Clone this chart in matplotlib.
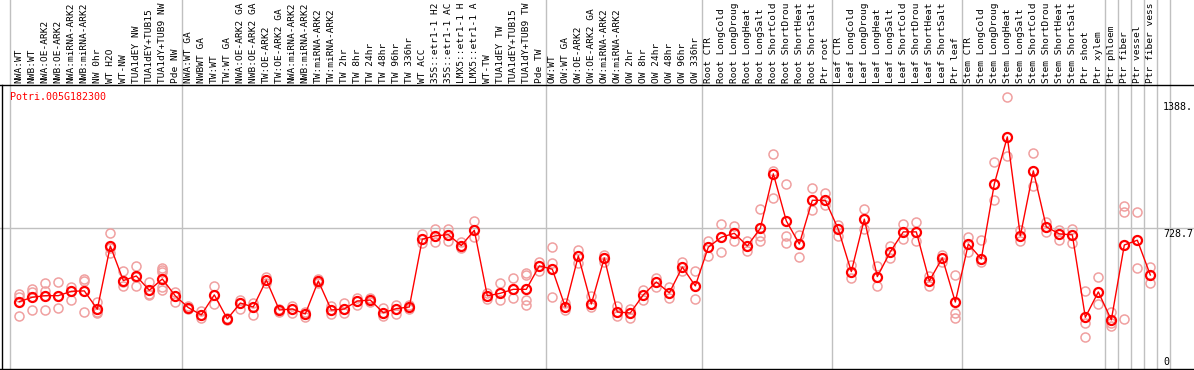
import matplotlib
matplotlib.use('Agg')
import matplotlib.pyplot as plt
from matplotlib.lines import Line2D


gene = 'Potri.005G182300'

# labels as printed in the header (it only holds 14 characters)
labels = [
    'NWA:WT', 'NWB:WT', 'NWA:OE-ARK2', 'NWB:OE-ARK2', 'NWA:miRNA-ARK2',
    'NWB:miRNA-ARK2', 'NW 0hr', 'WT H2O', 'WT-NW', 'TUA1dEY NW',
    'TUA1dEY+TUB15', 'TUA1dY+TUB9 NW', 'Pde NW',
    'NWA:WT GA', 'NWBWT GA', 'TW:WT', 'TW:WT GA', 'NWA:OE-ARK2 GA',
    'NWB:OE-ARK2 GA', 'TW:OE-ARK2', 'TW:OE-ARK2 GA', 'NWA:miRNA-ARK2',
    'NWB:miRNA-ARK2', 'TW:miRNA-ARK2', 'TW:miRNA-ARK2', 'TW 2hr', 'TW 8hr',
    'TW 24hr', 'TW 48hr', 'TW 96hr', 'TW 336hr', 'WT ACC',
    '35S::etr1-1 H2', '35S::etr1-1 AC', 'LMX5::etr1-1 H',
    'LMX5::etr1-1 A', 'WT-TW', 'TUA1dEY TW', 'TUA1dEY+TUB15',
    'TUA1dY+TUB9 TW', 'Pde TW',
    'OW:WT', 'OW:WT GA', 'OW:OE-ARK2', 'OW:OE-ARK2 GA', 'OW:miRNA-ARK2',
    'OW:miRNA-ARK2', 'OW 2hr', 'OW 8hr', 'OW 24hr', 'OW 48hr', 'OW 96hr',
    'OW 336hr',
    'Root CTR', 'Root LongCold', 'Root LongDroug', 'Root LongHeat',
    'Root LongSalt', 'Root ShortCold', 'Root ShortDrou', 'Root ShortHeat',
    'Root ShortSalt', 'Ptr root',
    'Leaf CTR', 'Leaf LongCold', 'Leaf LongDroug', 'Leaf LongHeat',
    'Leaf LongSalt', 'Leaf ShortCold', 'Leaf ShortDrou', 'Leaf ShortHeat',
    'Leaf ShortSalt', 'Ptr leaf',
    'Stem CTR', 'Stem LongCold', 'Stem LongDroug', 'Stem LongHeat',
    'Stem LongSalt', 'Stem ShortCold', 'Stem ShortDrou', 'Stem ShortHeat',
    'Stem ShortSalt', 'Ptr shoot', 'Ptr xylem',
    'Ptr phloem', 'Ptr fiber', 'Ptr vessel', 'Ptr fiber vess',
]

# samples per block, blocks are split by the grey vertical lines
group_sizes = [13, 28, 12, 10, 10, 11, 1, 1, 1, 1, 1]

means = [
    358, 380, 388, 388, 410, 412, 320, 638, 464, 487, 415, 472, 387,
    328, 291, 392, 271, 351, 331, 467, 316, 321, 296, 462, 316, 321, 361,
    366, 302, 323, 331, 672, 689, 695, 640, 717, 387, 400, 420, 420, 538,
    521, 331, 588, 346, 578, 306, 301, 392, 457, 402, 532, 437,
    632, 682, 702, 638, 727, 1001, 764, 648, 868, 868,
    722, 509, 773, 484, 609, 709, 709, 462, 578, 356,
    648, 573, 950, 1187, 689, 1016, 734, 699, 694, 279, 407,
    266, 643, 667, 492,
]

replicates = [
    [397, 287, 382], [422, 316, 407], [452, 316, 412], [455, 325],
    [433, 366], [472, 464, 304], [358, 302, 308], [702, 601, 628],
    [512, 435, 457], [538, 435, 484], [455, 397, 392],
    [526, 517, 509, 433, 417], [408, 358],
    [336, 320], [311, 276], [437, 346], [276, 266], [366, 321], [351, 291],
    [482, 452], [321, 306], [336, 301], [306, 281], [472, 452], [336, 296],
    [351, 301], [376, 341], [376, 356], [325, 286], [343, 296], [341, 321],
    [697, 655], [725, 660], [722, 663], [657, 627], [764, 682], [402, 371],
    [453, 366], [476, 375], [504, 492, 366, 341], [559, 512],
    [632, 551, 383], [351, 316], [618, 553], [387, 331], [594, 558],
    [336, 286], [321, 276], [417, 366], [477, 432], [432, 376], [558, 512],
    [512, 370],
    [665, 589], [747, 606], [739, 663], [665, 615], [823, 689, 665],
    [1100, 1017, 881], [950, 689, 652], [694, 581], [929, 819], [903, 845],
    [744, 689], [543, 479], [826, 722], [539, 437], [638, 578], [749, 673],
    [759, 665], [487, 437], [594, 558], [492, 301, 276],
    [683, 608], [668, 558], [1061, 870], [1388, 1091], [719, 663],
    [1106, 940], [759, 709], [719, 668], [724, 653], [412, 249, 179],
    [481, 346],
    [304, 236, 251], [839, 808, 271], [808, 526], [531, 450],
]

y_ticks = [1388, 728.7, 0]


def draw():
    fig = plt.figure(figsize=(11.94, 3.7), dpi=100)
    top = 285 / 370
    ax = fig.add_axes([0, 0, 1, top])
    lab = fig.add_axes([0, top, 1, 1 - top], sharex=ax)
    x = list(range(len(labels)))

    for a in (ax, lab):
        for s in a.spines.values():
            s.set_visible(False)
        a.tick_params(left=False, bottom=False, labelleft=False, labelbottom=False)
    ax.set_xlim(-1.485, 90.36)
    ax.set_ylim(14, 1448)
    lab.set_ylim(0, 1)

    # group separators
    edges = [-0.68]
    pos = -0.5
    for g in group_sizes:
        pos += g
        edges.append(pos)
    for e in edges:
        ax.axvline(e, color='#c0c0c0', lw=1, zorder=1)
        lab.axvline(e, color='#c0c0c0', lw=1, zorder=1)
    ax.axhline(y_ticks[1], color='#c0c0c0', lw=1, zorder=1)

    for xi, vals in zip(x, replicates):
        ax.plot([xi] * len(vals), vals, 'o', ms=6.5, mfc='none', mec='#f0a0a0',
                mew=1.1, zorder=2)
    ax.plot(x, means, '-', color='red', lw=1, zorder=3)
    ax.plot(x, means, 'o', ms=6.5, mfc='none', mec='red', mew=1.6, zorder=4)

    for xi, name in zip(x, labels):
        lab.text(xi, 2 / 85, name, rotation=90, ha='center', va='bottom',
                 family='DejaVu Sans Mono', fontsize=6.8, color='black')

    ax.text(10 / 1194, 1 - 12 / 285, gene, transform=ax.transAxes, color='red',
            family='DejaVu Sans Mono', fontsize=7.2, va='center', ha='left')

    tx = 1163 / 1194
    ax.annotate('1388.', (tx, y_ticks[0]), xycoords=('axes fraction', 'data'),
                xytext=(0, -4), textcoords='offset points', va='top',
                family='DejaVu Sans Mono', fontsize=7.2)
    ax.annotate('728.7', (tx, y_ticks[1]), xycoords=('axes fraction', 'data'),
                xytext=(0, -0.5), textcoords='offset points', va='top',
                family='DejaVu Sans Mono', fontsize=7.2)
    ax.text(tx, 3 / 285, '0', transform=ax.transAxes, va='bottom',
            family='DejaVu Sans Mono', fontsize=7.2)

    # frame lines
    fig.add_artist(Line2D([0, 1], [top, top], color='black', lw=1))
    fig.add_artist(Line2D([1.5 / 1194] * 2, [0, top], color='black', lw=1))
    fig.add_artist(Line2D([0, 1], [1.5 / 370] * 2, color='black', lw=1))

    fig.savefig('out.png', dpi=100)


if __name__ == '__main__':
    draw()
